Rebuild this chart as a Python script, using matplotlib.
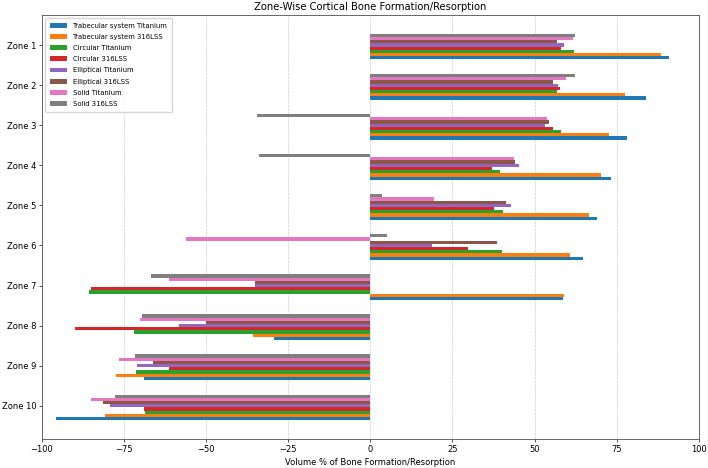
import numpy as np
import matplotlib
matplotlib.use('Agg')
import matplotlib.pyplot as plt

zones = ['Zone 1', 'Zone 2', 'Zone 3', 'Zone 4', 'Zone 5',
         'Zone 6', 'Zone 7', 'Zone 8', 'Zone 9', 'Zone 10']

series_names = ['Trabecular system Titanium', 'Trabecular system 316LSS',
                'Circular Titanium', 'Circular 316LSS',
                'Elliptical Titanium', 'Elliptical 316LSS',
                'Solid Titanium', 'Solid 316LSS']

trab_ti = [91.0, 84.0, 78.1, 73.2, 69.0, 64.6, 58.5, -29.3, -69.0, -95.8]
trab_ss = [88.4, 77.4, 72.6, 70.3, 66.6, 60.9, 58.9, -35.8, -77.5, -80.8]
circ_ti = [61.9, 56.9, 58.0, 39.4, 40.4, 40.1, -85.8, -71.9, -71.5, -68.6]
circ_ss = [58.1, 57.6, 55.6, 37.0, 37.7, 29.7, -85.2, -89.8, -61.3, -69.0]
ell_ti = [58.9, 57.0, 53.3, 45.3, 42.8, 18.8, -35.0, -58.3, -71.2, -79.3]
ell_ss = [56.9, 55.5, 54.3, 44.1, 41.3, 38.7, -35.0, -50.1, -66.3, -81.3]
solid_ti = [61.7, 59.5, 53.8, 43.8, 19.4, -56.2, -61.3, -70.2, -76.4, -85.0]
solid_ss = [62.3, 62.3, -34.6, -34.0, 3.4, 5.2, -66.8, -69.6, -71.6, -77.8]

all_series = [trab_ti, trab_ss, circ_ti, circ_ss, ell_ti, ell_ss, solid_ti, solid_ss]

s = 0.6
plt.rcParams['font.size'] = 10 * s

fig, ax = plt.subplots(figsize=(7.08, 4.68), dpi=100)
fig.subplots_adjust(left=0.0593, right=0.987, top=0.969, bottom=0.0609)

y = np.arange(len(zones))[::-1]
h = 0.08
for k in range(len(all_series)):
    ax.barh(y + k * h, all_series[k], height=h, label=series_names[k])

ax.set_yticks(y + h * len(all_series) / 2)
ax.set_yticklabels(zones, fontsize=10 * s)
ax.set_xlim(-100, 100)
ax.set_xticks([-100, -75, -50, -25, 0, 25, 50, 75, 100])
ax.tick_params(labelsize=10 * s, width=0.8 * s, length=3.5 * s, pad=3.5 * s)
ax.set_xlabel('Volume % of Bone Formation/Resorption', fontsize=10 * s, labelpad=4 * s)
ax.set_title('Zone-Wise Cortical Bone Formation/Resorption', fontsize=12 * s, pad=6 * s)
ax.grid(True, axis='x', linestyle='--', alpha=0.7, linewidth=0.8 * s)
ax.set_axisbelow(True)
for sp in ax.spines.values():
    sp.set_linewidth(0.8 * s * 1.3)
    sp.set_color('#555555')
ax.legend(loc='upper left', fontsize=8.33 * s, handlelength=2.4,
          labelspacing=0.74, borderpad=0.7)

fig.savefig('out.png', dpi=100)
